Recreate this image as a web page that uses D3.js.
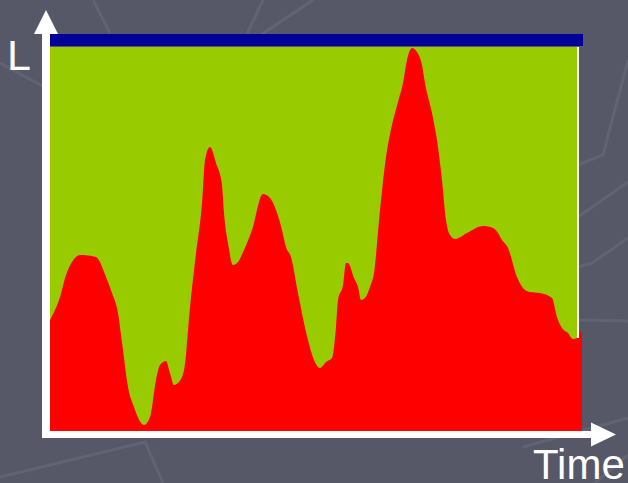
<!DOCTYPE html>
<html>
<head>
<meta charset="utf-8">
<script src="https://cdn.jsdelivr.net/npm/d3@7"></script>
<style>
  html, body { margin: 0; padding: 0; background: #565867; }
  svg { display: block; }
</style>
</head>
<body>
<svg id="chart" width="628" height="483"></svg>
<script>
// ---- data ----
const times = [0,5,8,11,15,23,25,27,31,34,36,39,42,47,50,53,55,58,60,62,64,67,70,73,76,77.5,80,83,86,87,89,91.5,94,97,101,106.5,110,113,116,118,120.5,124,129,132,135,138,141,143,144,146.5,148,149,152,154,155.5,157.5,160,162,165,168,171,174,176.5,178.5,181,183.5,186,187.5,191,193.5,196,198,200,202.5,208.5,216.5,221.5,224,226,229,233.5,237.5,240,245,251,253.5,256,259,261.5,263.5,265,266];
const levels = [55.5,67,78,84.5,88,87,84.5,79.5,69,59,44.5,22,12,3,7,25.5,33,35,29,23,24,30.5,62,89,114,135.5,142,134,123,109,94,83,84.5,90.5,100.5,118.5,116.5,110.5,100.5,92,87,69,45.5,35.5,31.5,34.5,36.5,52,65.5,73,84,84,76.5,72,65.5,66.5,72,79,110.5,137,153,164.5,174,185.5,191.5,189.5,183,174,159,145.5,125.5,105.5,98,96,99,102.5,101.5,99,95.5,91.5,77,70.5,69.5,69,66.5,57,51.5,49,46,46.5,49.5,50];
const capacity = 192;          // level of the upper (green) limit
const capacityBand = 6;        // thickness of the navy limit band (level units)
const greenEnd = 263.5;        // time where the green region ends
const navyEnd = 266.5;
const axisLabels = { y: "L", x: "Time" };

// ---- layout ----
const svg = d3.select("#chart");
const x = d3.scaleLinear().domain([0, 266]).range([50, 582]);
const y = d3.scaleLinear().domain([0, capacity]).range([431, 47]);

// background faint lines
const bgLines = [
  [[0,63],[46,88]],
  [[93,0],[110,33]],
  [[263,0],[247,34]],
  [[313,0],[262,34]],
  [[0,477],[145,442],[163,483]],
  [[628,60],[603,155],[578,165]],
  [[628,182],[578,217]],
  [[628,238],[592,263],[578,267]],
  [[578,320],[628,321]],
  [[523,447],[628,418]],
  [[595,483],[628,455]]
];
svg.append("g").selectAll("path").data(bgLines).join("path")
  .attr("d", d => d3.line()(d))
  .attr("fill", "none")
  .attr("stroke", "rgba(255,255,255,0.07)")
  .attr("stroke-width", 3);

// green region
svg.append("rect")
  .attr("x", x(0)).attr("y", y(capacity))
  .attr("width", x(greenEnd) - x(0))
  .attr("height", y(0) - y(capacity))
  .attr("fill", "#99cc00");

// red area
const data = times.map((t, i) => ({ t, v: levels[i] }));
const area = d3.area()
  .x(d => x(d.t)).y0(y(0)).y1(d => y(d.v))
  .curve(d3.curveMonotoneX);
svg.append("path").datum(data).attr("d", area).attr("fill", "#ff0000");

// white right edge of green region
svg.append("line")
  .attr("x1", x(greenEnd) + 1).attr("x2", x(greenEnd) + 1)
  .attr("y1", y(capacity)).attr("y2", y(46.5))
  .attr("stroke", "#ffffff").attr("stroke-width", 2);

// navy capacity band
svg.append("rect")
  .attr("x", x(0)).attr("y", y(capacity + capacityBand + 0.5))
  .attr("width", x(navyEnd) - x(0))
  .attr("height", y(capacity) - y(capacity + capacityBand + 0.5) - 1)
  .attr("fill", "#000099");

// axes
const axisG = svg.append("g").attr("fill", "#ffffff");
axisG.append("rect").attr("x", 42).attr("y", 33).attr("width", 8).attr("height", 405);
axisG.append("rect").attr("x", 42).attr("y", 431).attr("width", 550).attr("height", 7);
axisG.append("path").attr("d", "M46,10 L34,34 L58,34 Z");
axisG.append("path").attr("d", "M616,434.5 L591,422.5 L591,446.5 Z");

// labels
svg.append("text").attr("x", 7).attr("y", 70)
  .attr("font-family", "Liberation Sans, Arial, sans-serif")
  .attr("font-size", 43).attr("fill", "#ffffff").text(axisLabels.y);
svg.append("text").attr("x", 533).attr("y", 479)
  .attr("font-family", "Liberation Sans, Arial, sans-serif")
  .attr("font-size", 42).attr("fill", "#ffffff").text(axisLabels.x);
</script>
</body>
</html>
